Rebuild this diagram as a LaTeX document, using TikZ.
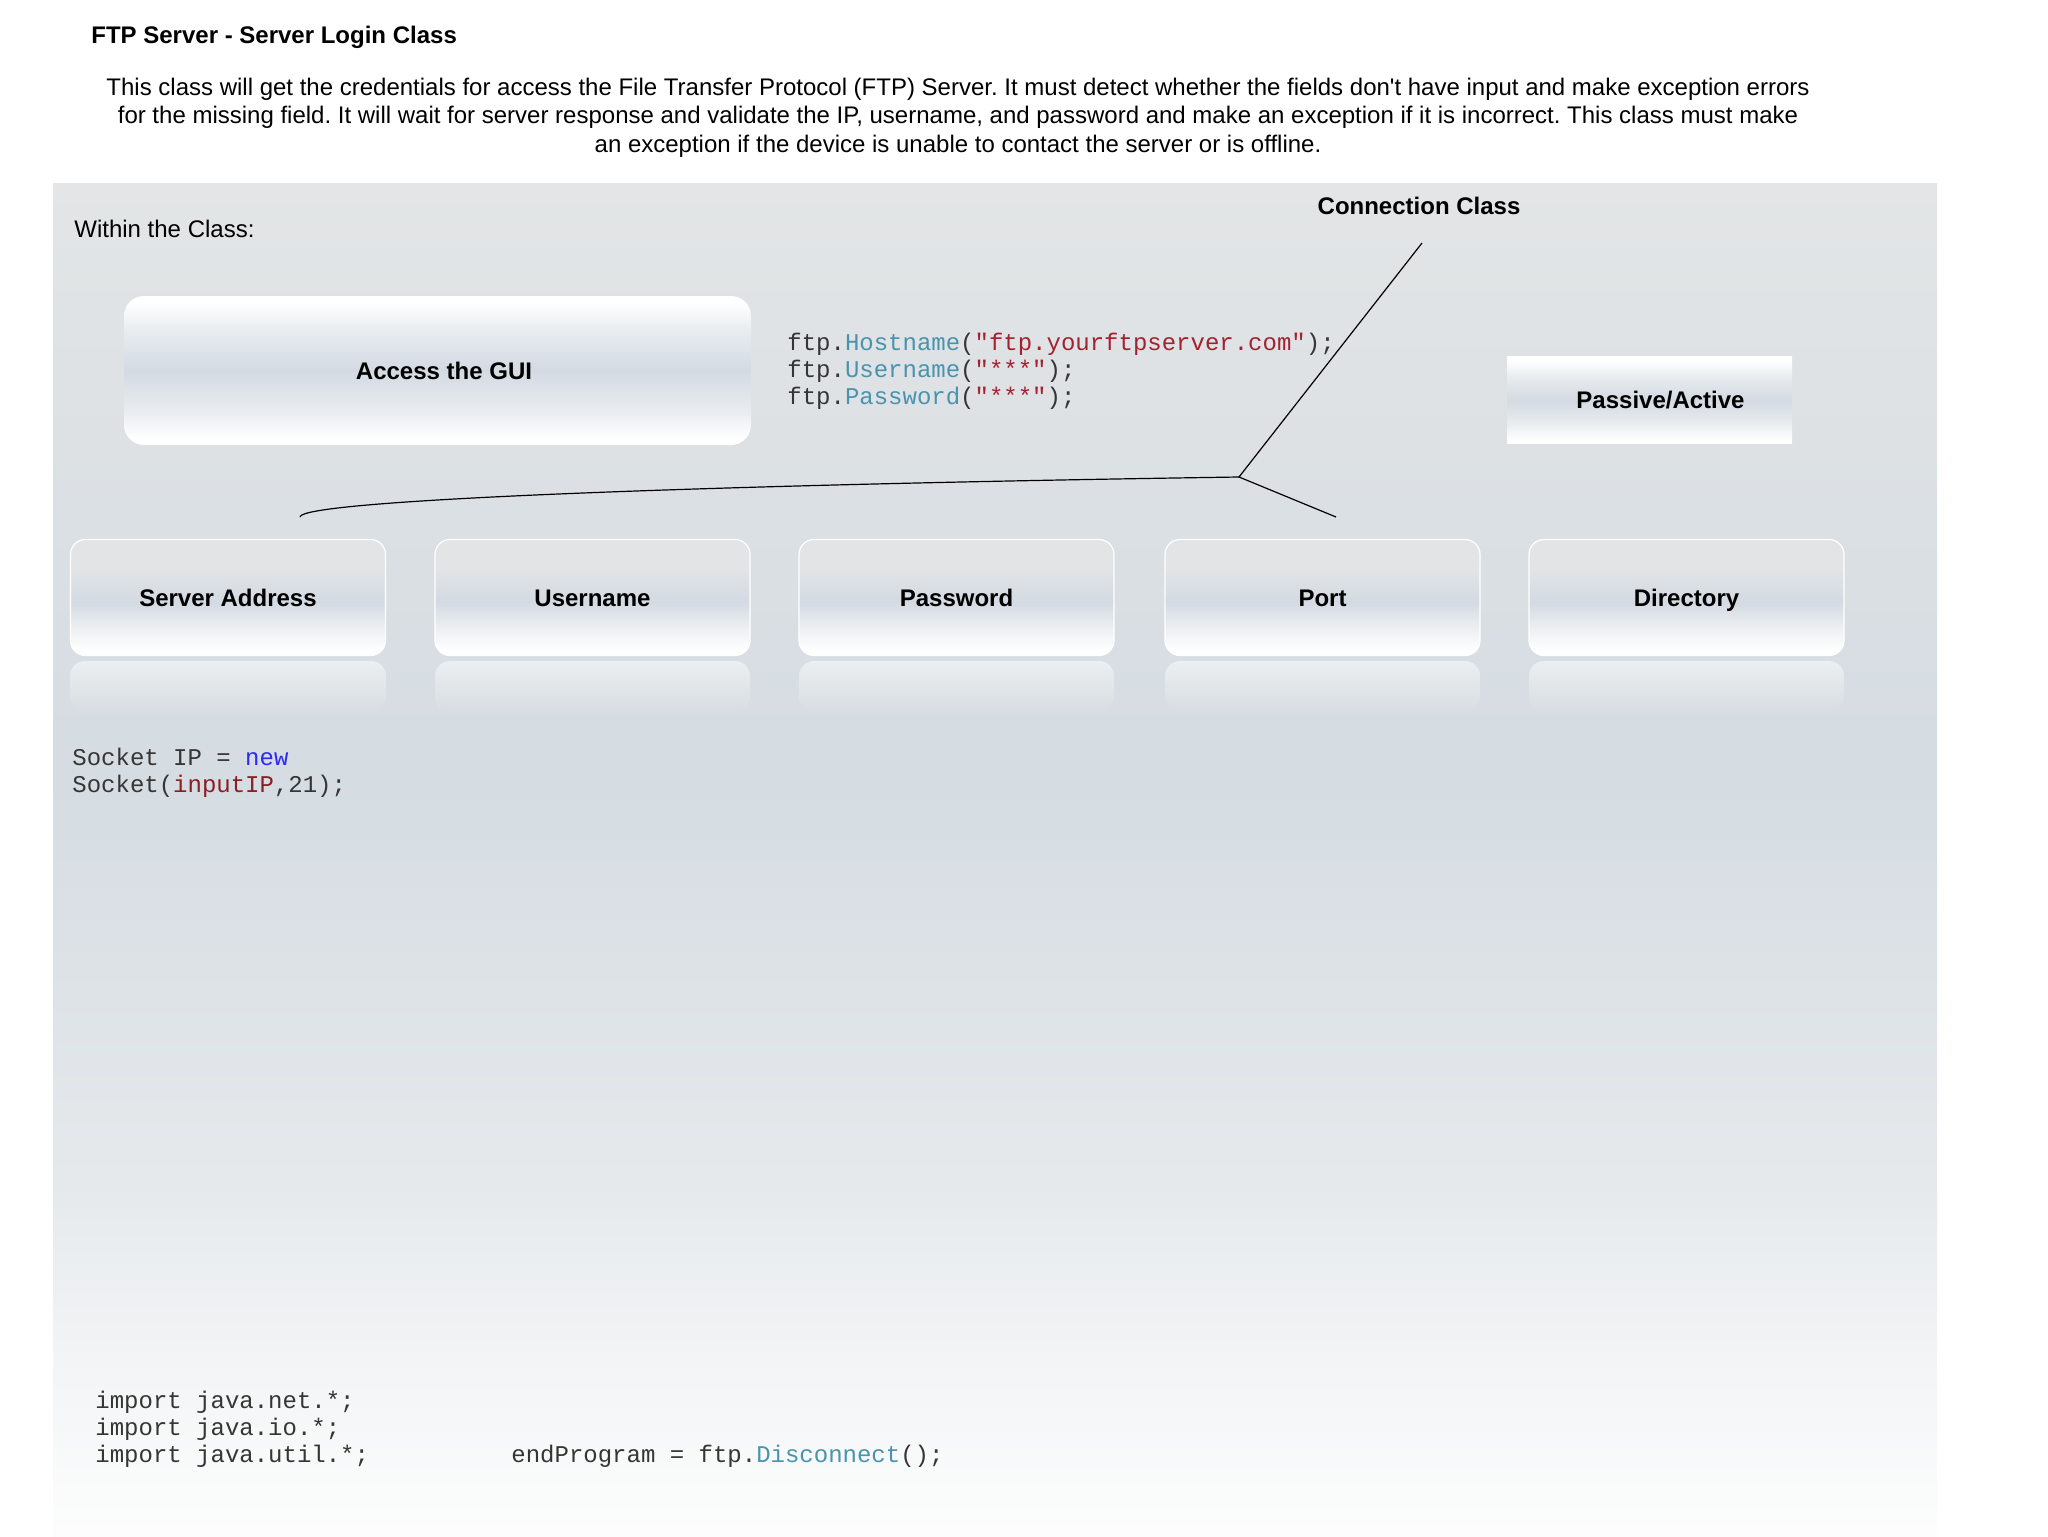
\documentclass[tikz,border=0pt]{standalone}
\usepackage{fontspec}
\setmainfont{Liberation Sans}
\setmonofont{Liberation Mono}
\usepackage{tikz}
\frenchspacing

\definecolor{bgtop}{HTML}{E3E5E6}
\definecolor{bgmid}{HTML}{D5DCE2}
\definecolor{bglow}{HTML}{E6E9EC}
\definecolor{bgpale}{HTML}{F3F5F6}
\definecolor{bgbot}{HTML}{FDFDFD}
\definecolor{boxtop}{HTML}{E2E4E6}
\definecolor{boxmid}{HTML}{D3DAE2}
\definecolor{boxlow}{HTML}{EAEDF0}
\definecolor{reflcol}{HTML}{ECEFF1}
\definecolor{reflend}{HTML}{D7DDE2}
\definecolor{codetxt}{HTML}{353535}
\definecolor{codemeth}{HTML}{4A93AE}
\definecolor{codestr}{HTML}{A3222F}
\definecolor{codevar}{HTML}{8B1E22}
\definecolor{codekey}{HTML}{2B2BEE}

\pgfdeclareverticalshading{bgshade}{100bp}{color(0bp)=(bgbot); color(25bp)=(bgbot); color(31bp)=(bgpale); color(38bp)=(bglow); color(53bp)=(bgmid); color(75bp)=(bgtop); color(100bp)=(bgtop)}
\pgfdeclareverticalshading{fieldshade}{100bp}{color(0bp)=(white); color(27bp)=(white); color(38bp)=(boxlow); color(48bp)=(boxmid); color(62bp)=(boxtop); color(75bp)=(boxtop); color(100bp)=(boxtop)}
\pgfdeclareverticalshading{guishade}{100bp}{color(0bp)=(white); color(27bp)=(white); color(36bp)=(boxlow); color(50bp)=(boxmid); color(64bp)=(boxlow); color(73bp)=(white); color(100bp)=(white)}

\tikzset{
  txt/.style={inner sep=0pt, font=\fontsize{12}{14.35}\selectfont},
  head/.style={txt, font=\fontsize{12}{14.35}\selectfont\bfseries},
  code/.style={inner sep=0pt, align=left, text=codetxt, font=\fontsize{12}{13.6}\selectfont\ttfamily},
  fieldbox/.style={draw=white, line width=0.6pt, rounded corners=7.5pt, shading=fieldshade,
    minimum width=157.5pt, minimum height=58pt, text height=8.7pt, text depth=0pt,
    font=\fontsize{12}{14.35}\selectfont\bfseries},
  guibox/.style={draw=none, rounded corners=10pt, shading=guishade,
    minimum width=313.5pt, minimum height=74.5pt, text height=8.7pt, text depth=0pt,
    font=\fontsize{12}{14.35}\selectfont\bfseries},
  modebox/.style={draw=none, shading=guishade,
    minimum width=142.5pt, minimum height=43.5pt, text height=8.7pt, text depth=0pt,
    font=\fontsize{12}{14.35}\selectfont\bfseries},
  reflect/.style={rounded corners=7.5pt, top color=reflcol, bottom color=reflend},
  wire/.style={line width=0.6pt, black}
}

\begin{document}
\begin{tikzpicture}[x=0.5pt,y=-0.5pt]
\useasboundingbox (0,0) rectangle (2048,1536);
\shade[shading=bgshade] (53,183) rectangle (1937,1536);

\node[head, anchor=west] (title) at (91,37) {FTP Server - Server Login Class};
\node[txt, align=center] (intro) at (958,117.5) {This class will get the credentials for access the File Transfer Protocol (FTP) Server. It must detect whether the fields don\textquotesingle t have input and make exception errors\\
for the missing field. It will wait for server response and validate the IP, username, and password and make an exception if it is incorrect. This class must make\\
an exception if the device is unable to contact the server or is offline.};

\node[txt, anchor=west] (within) at (74,228.5) {Within the Class:};
\node[head] (connlbl) at (1419,206) {Connection Class};

\node[guibox] (gui) at (437.5,370.5) {\hspace*{6.5pt}Access the GUI};
\node[code, anchor=west] (ftpcode) at (787,371) {ftp.\textcolor{codemeth}{Hostname}(\textcolor{codestr}{"ftp.yourftpserver.com"});\\
ftp.\textcolor{codemeth}{Username}(\textcolor{codestr}{"***"});\\
ftp.\textcolor{codemeth}{Password}(\textcolor{codestr}{"***"});};
\node[modebox] (passive) at (1649.5,400) {\hspace*{11pt}Passive/Active};

% fields of the login form
\shade[reflect] (70,661) rectangle (386,712);
\shade[reflect] (435,661) rectangle (750,712);
\shade[reflect] (799,661) rectangle (1114,712);
\shade[reflect] (1165,661) rectangle (1480,712);
\shade[reflect] (1529,661) rectangle (1844,712);
\node[fieldbox] (fieldaddr) at (228,597.5) {Server Address};
\node[fieldbox] (fielduser) at (592.5,597.5) {Username};
\node[fieldbox] (fieldpass) at (956.5,597.5) {Password};
\node[fieldbox] (fieldport) at (1322.5,597.5) {Port};
\node[fieldbox] (fielddir) at (1686.5,597.5) {Directory};

\coordinate (conntop) at (1422,243);
\coordinate (hub) at (1239,477);
\coordinate (porttip) at (1336,517);
\coordinate (servtip) at (300,517);
\draw[wire] (conntop) -- (hub) -- (porttip);
\draw[wire] (hub) .. controls (700,485) and (300,500) .. (servtip);

\node[code, anchor=west] (socketcode) at (72,773) {Socket IP = \textcolor{codekey}{new}\\
Socket(\textcolor{codevar}{inputIP},21);};

\node[code, anchor=west] (imports) at (95,1429) {import java.net.*;\\
import java.io.*;\\
import java.util.*;};
\node[code, anchor=west] (endprog) at (511,1456) {endProgram = ftp.\textcolor{codemeth}{Disconnect}();};

\end{tikzpicture}
\end{document}
